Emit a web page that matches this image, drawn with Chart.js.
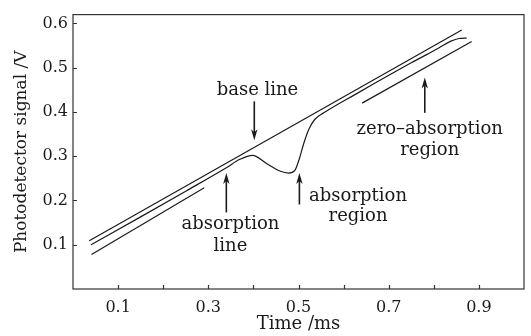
<!DOCTYPE html>
<html>
<head>
<meta charset="utf-8">
<script src="https://cdn.jsdelivr.net/npm/chart.js@4.4.1/dist/chart.umd.min.js"></script>
<style>
html,body{margin:0;padding:0;background:#fff;}
#wrap{width:531px;height:336px;}
</style>
</head>
<body>
<div id="wrap"><canvas id="c" width="531" height="336"></canvas></div>
<script>
// ---- data ----
const baseLineX = [0.036, 0.862];
const baseLineY = [0.109, 0.585];

const signalX = [0.04, 0.15, 0.25, 0.34, 0.37, 0.398, 0.43, 0.46, 0.478, 0.492, 0.502, 0.512, 0.524, 0.536, 0.556, 0.63, 0.75, 0.81, 0.838, 0.856, 0.873];
const signalY = [0.100, 0.163, 0.221, 0.274, 0.293, 0.302, 0.283, 0.266, 0.262, 0.268, 0.295, 0.330, 0.363, 0.383, 0.398, 0.442, 0.511, 0.544, 0.560, 0.566, 0.567];

const zeroLine1X = [0.041, 0.291];
const zeroLine1Y = [0.078, 0.229];
const zeroLine2X = [0.641, 0.884];
const zeroLine2Y = [0.420, 0.559];

const xTickValues = [0.1, 0.2, 0.3, 0.4, 0.5, 0.6, 0.7, 0.8, 0.9];
const xTickLabels = ['0.1', '', '0.3', '', '0.5', '', '0.7', '', '0.9'];
const yTickValues = [0.1, 0.2, 0.3, 0.4, 0.5, 0.6];
const yTickLabels = ['0.1', '0.2', '0.3', '0.4', '0.5', '0.6'];

// annotations: arrows (x, tail y, tip y) and text lines (x, y, text), in data units
const arrows = [
  {x: 0.402, from: 0.424, to: 0.336},
  {x: 0.340, from: 0.173, to: 0.262},
  {x: 0.502, from: 0.191, to: 0.262},
  {x: 0.780, from: 0.398, to: 0.478}
];
const notes = [
  {x: 0.409, y: 0.449, text: 'base line'},
  {x: 0.349, y: 0.145, text: 'absorption'},
  {x: 0.349, y: 0.097, text: 'line'},
  {x: 0.632, y: 0.209, text: 'absorption'},
  {x: 0.632, y: 0.164, text: 'region'},
  {x: 0.791, y: 0.361, text: 'zero\u2013absorption'},
  {x: 0.791, y: 0.314, text: 'region'}
];

function pts(xs, ys){ return xs.map((x,i)=>({x:x, y:ys[i]})); }

const SERIF = '"DejaVu Serif", "Liberation Serif", serif';
const INK = '#1a1a1a';

const framePlugin = {
  id: 'frame',
  afterDraw(chart){
    const {ctx, chartArea:a, scales} = chart;
    ctx.save();
    ctx.strokeStyle = '#333';
    ctx.lineWidth = 1.2;
    ctx.strokeRect(a.left, a.top, a.right - a.left, a.bottom - a.top);
    ctx.beginPath();
    xTickValues.forEach(v=>{
      const px = Math.round(scales.x.getPixelForValue(v)) + 0.5;
      ctx.moveTo(px, a.bottom); ctx.lineTo(px, a.bottom - 4);
    });
    yTickValues.forEach(v=>{
      const py = Math.round(scales.y.getPixelForValue(v)) + 0.5;
      ctx.moveTo(a.left, py); ctx.lineTo(a.left + 4, py);
    });
    ctx.stroke();

    // arrows
    ctx.strokeStyle = INK; ctx.fillStyle = INK; ctx.lineWidth = 1.6;
    arrows.forEach(ar=>{
      const px = scales.x.getPixelForValue(ar.x);
      const y0 = scales.y.getPixelForValue(ar.from);
      const y1 = scales.y.getPixelForValue(ar.to);
      const dir = y1 > y0 ? 1 : -1;
      ctx.beginPath();
      ctx.moveTo(px, y0); ctx.lineTo(px, y1 - dir*8);
      ctx.stroke();
      ctx.beginPath();
      ctx.moveTo(px, y1);
      ctx.lineTo(px - 3.2, y1 - dir*11);
      ctx.lineTo(px, y1 - dir*8);
      ctx.lineTo(px + 3.2, y1 - dir*11);
      ctx.closePath();
      ctx.fill();
    });

    // notes
    ctx.font = '18px ' + SERIF;
    ctx.textAlign = 'center';
    ctx.textBaseline = 'middle';
    notes.forEach(n=>{
      ctx.fillText(n.text, scales.x.getPixelForValue(n.x), scales.y.getPixelForValue(n.y));
    });
    ctx.restore();
  }
};

const lineStyle = {borderColor: INK, borderWidth: 1.2, pointRadius: 0, showLine: true, fill: false};

new Chart(document.getElementById('c'), {
  type: 'scatter',
  data: {
    datasets: [
      Object.assign({label: 'base line', data: pts(baseLineX, baseLineY)}, lineStyle),
      Object.assign({label: 'signal', data: pts(signalX, signalY), cubicInterpolationMode: 'monotone'}, lineStyle),
      Object.assign({label: 'zero-absorption 1', data: pts(zeroLine1X, zeroLine1Y)}, lineStyle),
      Object.assign({label: 'zero-absorption 2', data: pts(zeroLine2X, zeroLine2Y)}, lineStyle)
    ]
  },
  options: {
    responsive: false,
    animation: false,
    layout: {padding: {left: 0, top: 10, right: 7, bottom: 0}},
    plugins: {legend: {display: false}, tooltip: {enabled: false}},
    scales: {
      x: {
        type: 'linear', min: 0, max: 1.0,
        afterFit(s){ s.height = 47; },
        afterBuildTicks(s){ s.ticks = xTickValues.map(v=>({value: v})); },
        grid: {display: false, drawTicks: false, tickLength: 0},
        border: {display: false},
        ticks: {
          color: INK, font: {family: SERIF, size: 16}, padding: 9, maxRotation: 0, autoSkip: false,
          callback: (v, i) => xTickLabels[i]
        },
        title: {display: true, text: 'Time /ms', color: INK, font: {family: SERIF, size: 18}, padding: {top: 0, bottom: 1}}
      },
      y: {
        type: 'linear', min: 0, max: 0.62,
        afterFit(s){ s.width = 73; },
        afterBuildTicks(s){ s.ticks = yTickValues.map(v=>({value: v})); },
        grid: {display: false, drawTicks: false, tickLength: 0},
        border: {display: false},
        ticks: {
          color: INK, font: {family: SERIF, size: 16}, padding: 5, autoSkip: false,
          callback: (v, i) => yTickLabels[i]
        },
        title: {display: true, text: 'Photodetector signal /V', color: INK, font: {family: SERIF, size: 17}, padding: {top: 11, bottom: 0}}
      }
    }
  },
  plugins: [framePlugin]
});
</script>
</body>
</html>
